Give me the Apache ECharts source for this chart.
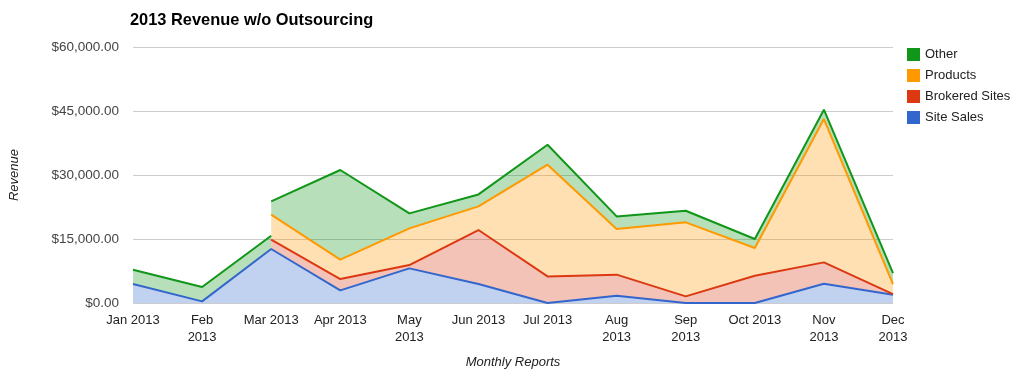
<!DOCTYPE html>
<html>
<head>
<meta charset="utf-8">
<script src="https://cdn.jsdelivr.net/npm/echarts@6/dist/echarts.min.js"></script>
<style>
  html, body { margin: 0; padding: 0; background: #fff; }
  #chart { width: 1020px; height: 376px; }
</style>
</head>
<body>
<div id="chart"></div>
<script>
// month labels (wrapped like the original)
const months = ['Jan 2013', 'Feb\n2013', 'Mar 2013', 'Apr 2013', 'May\n2013', 'Jun 2013',
  'Jul 2013', 'Aug\n2013', 'Sep\n2013', 'Oct 2013', 'Nov\n2013', 'Dec\n2013'];

// revenue per month, bottom of the stack first
const siteSales     = [4450, 375, 12660, 2950, 8110, 4450, 0, 1710, 0, 0, 4520, 1950];
const brokeredSites = [null, null, 2180, 2670, 790, 12650, 6240, 4930, 1560, 6400, 5000, 150];
const products      = [null, null, 5860, 4530, 8580, 5540, 26170, 10700, 17340, 6490, 33600, 2340];
const other         = [3350, 3375, 3110, 21020, 3520, 2810, 4690, 2960, 2730, 2110, 2180, 2580];

const yTicks = [0, 15000, 30000, 45000, 60000];

const seriesDefs = [
  { name: 'Site Sales', data: siteSales, color: '#3366cc' },
  { name: 'Brokered Sites', data: brokeredSites, color: '#dc3912' },
  { name: 'Products', data: products, color: '#ff9900' },
  { name: 'Other', data: other, color: '#109618' }
];

// where a series starts after nulls the stack jumps straight up on that x:
// 'pre' = stack without the new series, 'gap' = break the lines above so
// no vertical stroke is drawn, then the real point
function startsAt(arr, i) {
  return i > 0 && arr[i - 1] == null && arr[i] != null;
}
let slots = [];
months.forEach(function (m, i) {
  let anyStart = seriesDefs.some(function (s) { return startsAt(s.data, i); });
  if (anyStart) {
    slots.push({ i: i, kind: 'pre' });
    slots.push({ i: i, kind: 'gap' });
  }
  slots.push({ i: i, kind: 'real' });
});

// value first so the stack adds up revenue, not the x position
const series = seriesDefs.map(function (s, k) {
  return {
    name: s.name,
    type: 'line',
    stack: 'total',
    showSymbol: false,
    clip: false,
    color: s.color,
    encode: { x: 1, y: 0 },
    lineStyle: { width: 2, color: s.color },
    areaStyle: { color: s.color, opacity: 0.3 },
    data: slots.map(function (sl) {
      let v = s.data[sl.i];
      if (sl.kind !== 'real' && startsAt(s.data, sl.i)) v = null;
      if (sl.kind === 'gap') {
        let below = seriesDefs.slice(0, k).some(function (b) { return startsAt(b.data, sl.i); });
        if (below) v = null;
      }
      return [v, sl.i];
    })
  };
});

const chart = echarts.init(document.getElementById('chart'));
chart.setOption({
  animation: false,
  textStyle: { fontFamily: 'Arial, "Liberation Sans", sans-serif' },
  title: {
    text: '2013 Revenue w/o Outsourcing',
    left: 125,
    top: 7,
    textStyle: { fontSize: 16.4, fontWeight: 'bold', color: '#000' }
  },
  legend: {
    orient: 'vertical',
    left: 902,
    top: 43,
    icon: 'rect',
    itemWidth: 13,
    itemHeight: 13,
    itemGap: 8,
    textStyle: { fontSize: 13, color: '#222' },
    data: ['Other', 'Products', 'Brokered Sites', 'Site Sales']
  },
  grid: { left: 131, right: 127, top: 47, bottom: 73 },
  xAxis: {
    type: 'value',
    min: 0,
    max: months.length - 1,
    interval: 1,
    name: 'Monthly Reports',
    nameLocation: 'middle',
    nameGap: 53,
    nameTextStyle: { fontStyle: 'italic', fontSize: 13, color: '#222' },
    axisLine: { show: false },
    axisTick: { show: false },
    splitLine: { show: false },
    axisLabel: {
      margin: 9,
      fontSize: 13,
      color: '#222',
      lineHeight: 17,
      formatter: function (v) { return months[v]; }
    }
  },
  yAxis: {
    type: 'value',
    min: yTicks[0],
    max: yTicks[yTicks.length - 1],
    interval: yTicks[1] - yTicks[0],
    name: 'Revenue',
    nameLocation: 'middle',
    nameGap: 112,
    nameTextStyle: { fontStyle: 'italic', fontSize: 13, color: '#222' },
    axisLine: { show: false },
    axisTick: { show: false },
    splitLine: { lineStyle: { color: '#cccccc' } },
    axisLabel: {
      margin: 14,
      fontSize: 13.5,
      color: '#444',
      formatter: function (v) {
        return '$' + v.toLocaleString('en-US', { minimumFractionDigits: 2, maximumFractionDigits: 2 });
      }
    }
  },
  series: series
});
</script>
</body>
</html>
